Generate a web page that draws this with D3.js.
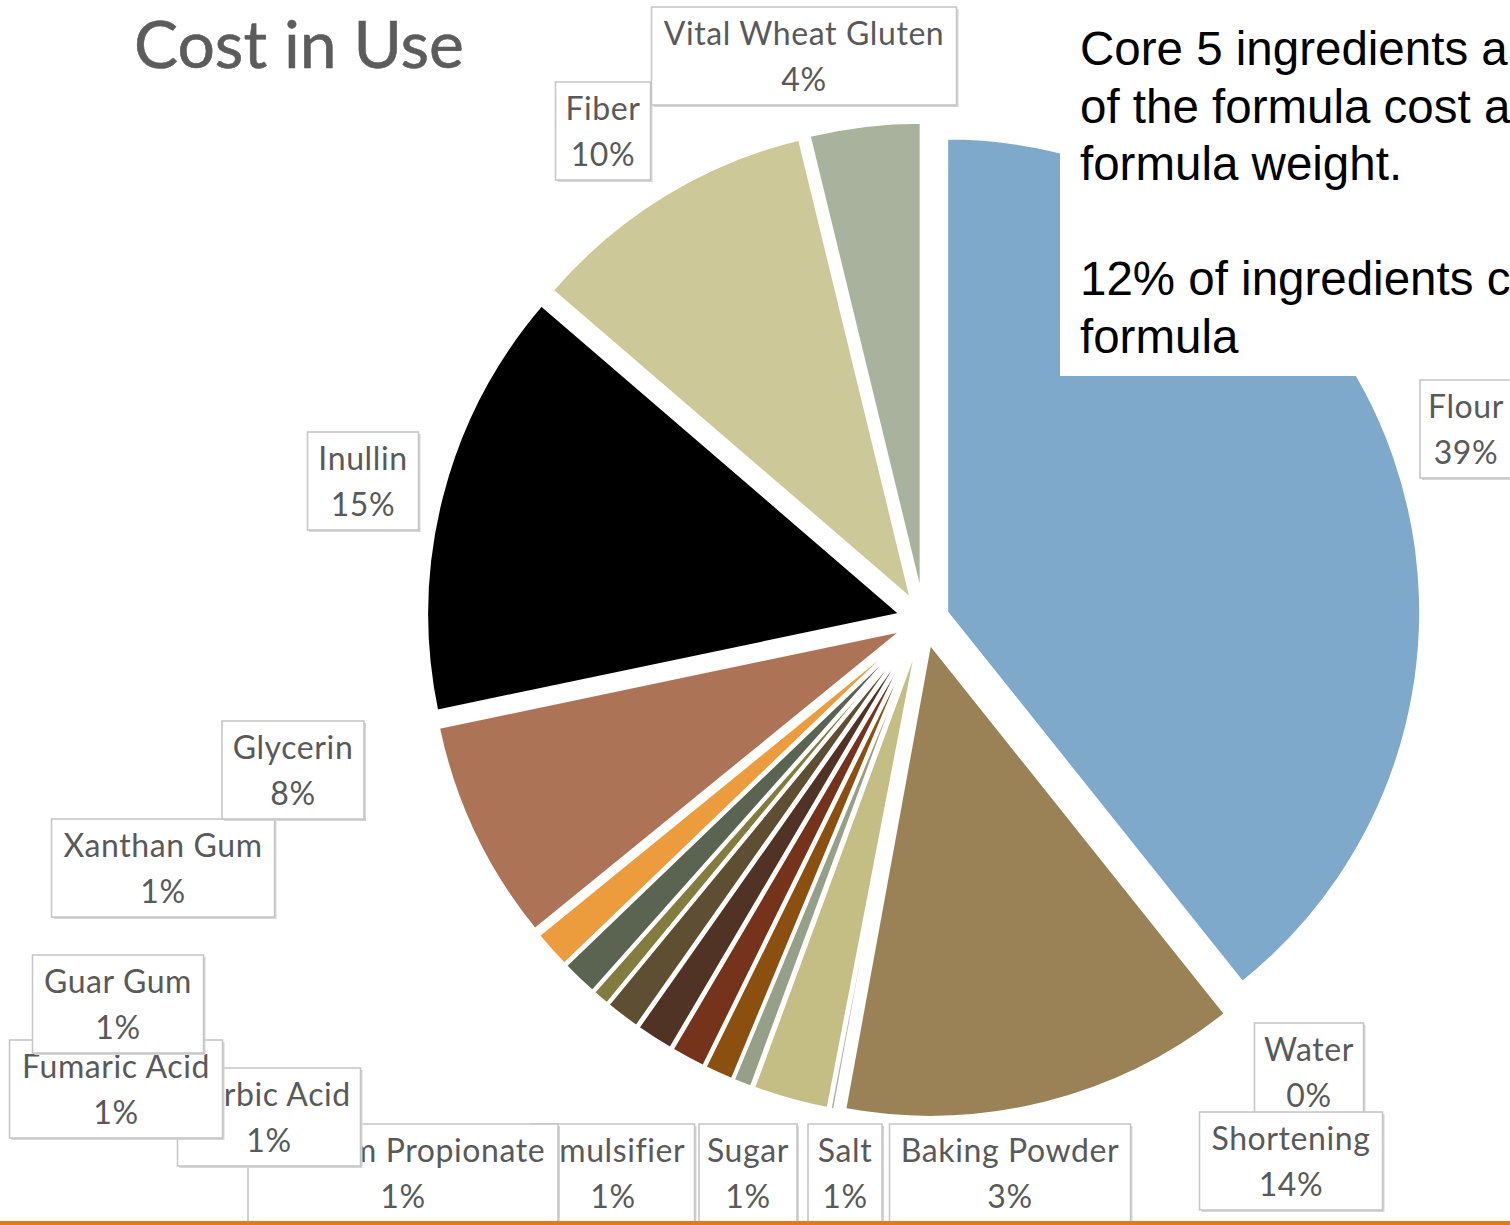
<!DOCTYPE html>
<html>
<head>
<meta charset="utf-8">
<script src="https://cdn.jsdelivr.net/npm/d3@7"></script>
<style>
  html, body { margin: 0; padding: 0; background: #ffffff; }
  svg { display: block; }
</style>
</head>
<body>
<svg id="chart" width="1510" height="1225"></svg>
<script>
// ---------------- data ----------------
const categories = ["Flour", "Shortening", "Water", "Baking Powder", "Salt", "Sugar", "Emulsifier",
  "Calcium Propionate", "Sorbic Acid", "Fumaric Acid", "Guar Gum", "Xanthan Gum", "Glycerin",
  "Inullin", "Fiber", "Vital Wheat Gluten"];
const costShare = [39.3, 13.6, 0.15, 2.6, 0.65, 1.0, 1.2, 1.3, 1.2, 0.6, 1.25, 1.3, 7.6, 14.6, 9.9, 3.8];
const sliceColors = ["#7ea9cb", "#9a8256", "#a7b09a", "#c4bd84", "#96a088", "#8b4f0f", "#74331a",
  "#513325", "#5e4f33", "#827d3e", "#5a6450", "#ec9c3c", "#ad7356", "#000000", "#cdc898", "#a8b29c"];
const titleText = "Cost in Use";
const noteLines = ["Core 5 ingredients a", "of the formula cost a", "formula weight.", "",
  "12% of ingredients c", "formula"];

// ---------------- layout (positions only) ----------------
const W = 1510, H = 1225;
const cx = 924, cy = 620, R = 474, explode = 24;
// label box: [centre x, top y, box width, draw order]
const labelLayout = {
  "Flour": [1466, 380, 92, 1],
  "Shortening": [1291, 1112, 183, 2],
  "Water": [1309, 1023, 109, 0],
  "Baking Powder": [1010, 1124, 241, 3],
  "Salt": [845, 1124, 74, 4],
  "Sugar": [748, 1124, 98, 5],
  "Emulsifier": [613, 1124, 163, 6],
  "Calcium Propionate": [403, 1124, 310, 7],
  "Sorbic Acid": [269, 1068, 183, 8],
  "Fumaric Acid": [116, 1040, 213, 9],
  "Guar Gum": [118, 955, 171, 10],
  "Xanthan Gum": [163, 819, 223, 11],
  "Glycerin": [293, 721, 142, 12],
  "Inullin": [363, 432, 111, 13],
  "Fiber": [603, 82, 95, 14],
  "Vital Wheat Gluten": [804, 7, 305, 15]
};

const data = categories.map((c, i) => ({ name: c, value: costShare[i], color: sliceColors[i] }));
const total = d3.sum(costShare);
const pct = d3.format(".0%");

const svg = d3.select("#chart");

// ---------------- pie ----------------
const pie = d3.pie().sort(null).value(d => d.value);
const arc = d3.arc().innerRadius(0).outerRadius(R);
const arcs = pie(data);

svg.append("g").selectAll("path")
  .data(arcs)
  .join("path")
  .attr("d", arc)
  .attr("fill", d => d.data.color)
  .attr("stroke", "#ffffff")
  .attr("stroke-width", 3)
  .attr("stroke-linejoin", "miter")
  .attr("transform", d => {
    const mid = (d.startAngle + d.endAngle) / 2;
    return `translate(${cx + explode * Math.sin(mid)},${cy - explode * Math.cos(mid)})`;
  });

// ---------------- note text box ----------------
const note = svg.append("g");
note.append("rect").attr("x", 1060).attr("y", 0).attr("width", W - 1060).attr("height", 376).attr("fill", "#ffffff");
note.selectAll("text").data(noteLines).join("text")
  .attr("x", 1080)
  .attr("y", (d, i) => 65 + i * 57.5)
  .attr("font-family", "'Liberation Sans', Arial, sans-serif")
  .attr("font-size", 47.5)
  .attr("fill", "#000000")
  .text(d => d);

// ---------------- title ----------------
svg.append("text")
  .attr("x", 134).attr("y", 68)
  .attr("font-family", "Lato, 'Open Sans', sans-serif")
  .attr("font-size", 66)
  .attr("fill", "#5c5c5c")
  .attr("stroke", "#5c5c5c")
  .attr("stroke-width", 0.6)
  .text(titleText);

// ---------------- data labels ----------------
const labelFont = 32;
const labelsG = svg.append("g");
const ordered = arcs.slice().sort((a, b) => labelLayout[a.data.name][3] - labelLayout[b.data.name][3]);
ordered.forEach(d => {
  const [lx, ly, bw] = labelLayout[d.data.name];
  const bh = 98;
  const g = labelsG.append("g");
  g.append("rect").attr("x", lx - bw / 2 + 2).attr("y", ly + 2).attr("width", bw).attr("height", bh).attr("fill", "#d6d6d6");
  g.append("rect").attr("x", lx - bw / 2).attr("y", ly).attr("width", bw).attr("height", bh)
    .attr("fill", "#ffffff").attr("stroke", "#c4c4c4").attr("stroke-width", 1.5);
  g.append("text").attr("x", lx).attr("y", ly + 38).attr("text-anchor", "middle")
    .attr("font-family", "Lato, 'Open Sans', sans-serif").attr("font-size", labelFont)
    .attr("letter-spacing", 0.6)
    .attr("fill", "#595959").text(d.data.name);
  g.append("text").attr("x", lx).attr("y", ly + 84).attr("text-anchor", "middle")
    .attr("font-family", "Lato, 'Open Sans', sans-serif").attr("font-size", labelFont)
    .attr("letter-spacing", 0.6)
    .attr("fill", "#595959").text(pct(d.data.value / total));
});

// ---------------- bottom orange rule ----------------
svg.append("rect").attr("x", 0).attr("y", 1221).attr("width", W).attr("height", 4).attr("fill", "#e2791a");
</script>
</body>
</html>
